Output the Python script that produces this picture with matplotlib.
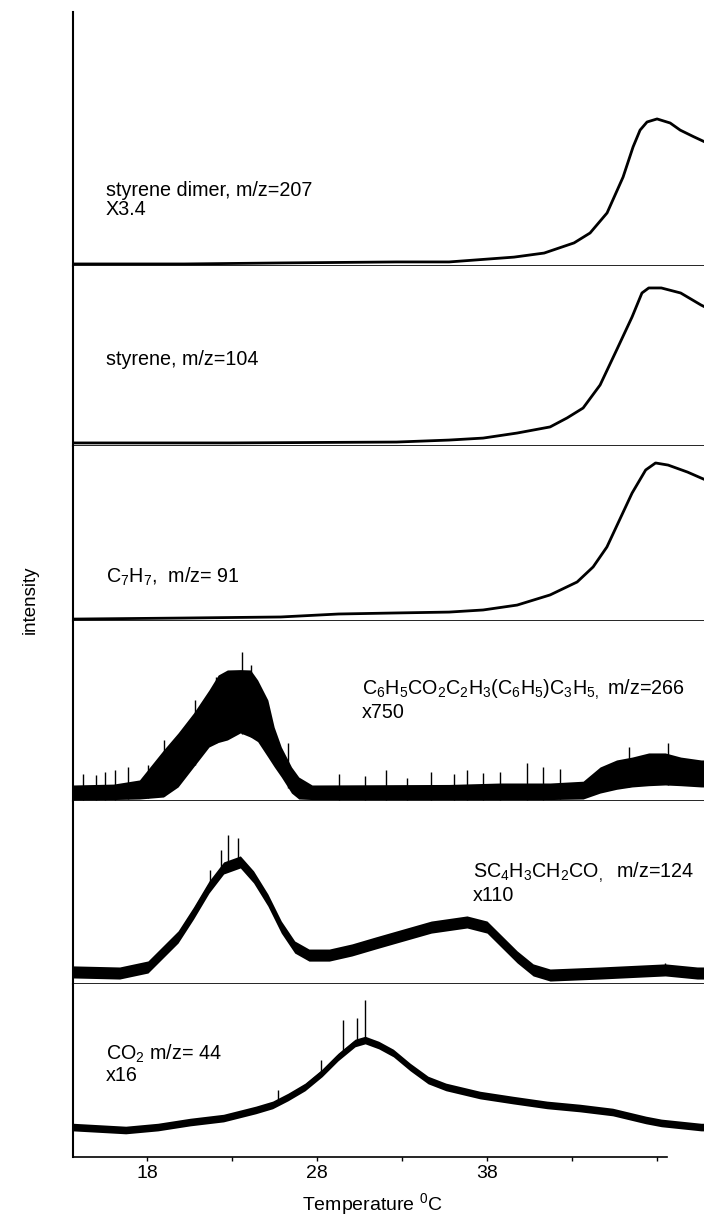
import numpy as np
import matplotlib.pyplot as plt

plt.rcParams['font.family'] = ['Liberation Sans', 'DejaVu Sans']
plt.rcParams['mathtext.fontset'] = 'custom'
plt.rcParams['mathtext.rm'] = 'Liberation Sans'
plt.rcParams['mathtext.default'] = 'regular'

# temperature (deg C) and intensity (fraction of panel height)
# styrene dimer, m/z=207
t_dimer = [13.65, 20.20, 25.87, 32.68, 35.77, 39.59, 41.36, 43.12, 44.06, 45.06, 46.00,
           46.59, 47.00, 47.41, 48.00, 48.77, 49.36, 50.12, 50.76]
i_dimer = [0.008, 0.008, 0.012, 0.016, 0.016, 0.035, 0.051, 0.091, 0.130, 0.209, 0.350,
           0.469, 0.535, 0.567, 0.579, 0.563, 0.535, 0.510, 0.490]

# styrene, m/z=104
t_styrene = [13.65, 22.89, 32.68, 35.77, 37.77, 39.77, 41.71, 42.71, 43.65, 44.65, 45.62,
             46.53, 47.11, 47.51, 48.25, 49.39, 50.59, 50.76]
i_styrene = [0.017, 0.017, 0.022, 0.033, 0.044, 0.072, 0.106, 0.156, 0.211, 0.339, 0.533,
             0.717, 0.850, 0.878, 0.878, 0.850, 0.783, 0.775]

# C7H7, m/z=91
t_c7h7 = [13.65, 20.20, 25.87, 29.27, 32.68, 35.77, 37.77, 39.77, 41.71, 43.30, 44.24,
          45.05, 45.79, 46.53, 47.33, 47.91, 48.65, 49.79, 50.59, 50.76]
i_c7h7 = [0.011, 0.017, 0.023, 0.040, 0.046, 0.051, 0.063, 0.091, 0.149, 0.223, 0.309,
          0.423, 0.577, 0.731, 0.863, 0.903, 0.891, 0.851, 0.817, 0.810]

# m/z=266 (very noisy: upper and lower edge of the noise band, plus tall spikes)
t_266 = [13.65, 16.03, 17.56, 18.97, 19.83, 20.74, 21.65, 22.19, 22.73, 23.49, 24.09,
         24.51, 25.11, 25.48, 25.90, 26.50, 26.93, 27.71, 35.77, 38.77, 41.71, 43.65,
         44.65, 45.62, 46.53, 47.51, 48.48, 49.39, 50.59, 50.76]
hi_266 = [0.089, 0.094, 0.117, 0.283, 0.378, 0.489, 0.617, 0.700, 0.728, 0.730, 0.728,
          0.672, 0.561, 0.411, 0.300, 0.189, 0.133, 0.089, 0.092, 0.100, 0.100, 0.110,
          0.189, 0.228, 0.244, 0.267, 0.267, 0.244, 0.228, 0.228]
lo_266 = [0.006, 0.008, 0.011, 0.022, 0.078, 0.189, 0.300, 0.325, 0.339, 0.378, 0.355,
          0.330, 0.244, 0.190, 0.133, 0.044, 0.011, 0.008, 0.008, 0.008, 0.008, 0.011,
          0.044, 0.065, 0.078, 0.085, 0.089, 0.085, 0.078, 0.078]
spike_t_266 = [14.26, 15.02, 15.53, 16.13, 16.90, 18.06, 19.03, 20.85, 22.08, 23.61, 24.09,
               26.32, 29.27, 30.83, 32.06, 33.30, 34.71, 36.08, 36.82, 37.77, 38.77, 40.36,
               41.30, 42.30, 46.36, 48.65]
spike_i_266 = [0.150, 0.144, 0.160, 0.172, 0.189, 0.200, 0.339, 0.561, 0.689, 0.828, 0.756,
               0.322, 0.150, 0.140, 0.170, 0.130, 0.161, 0.150, 0.172, 0.156, 0.160, 0.211,
               0.189, 0.180, 0.300, 0.322]

# SC4H3CH2CO, m/z=124
t_124 = [13.65, 16.39, 18.06, 19.83, 20.74, 21.65, 22.51, 23.49, 24.27, 25.11, 25.90,
         26.69, 27.53, 28.72, 30.05, 31.44, 32.68, 34.72, 36.82, 38.00, 38.77, 39.77,
         40.71, 41.71, 44.65, 48.48, 50.36, 50.76]
i_124 = [0.066, 0.060, 0.093, 0.257, 0.388, 0.530, 0.634, 0.667, 0.585, 0.459, 0.311,
         0.202, 0.158, 0.158, 0.186, 0.224, 0.257, 0.311, 0.339, 0.311, 0.240, 0.148,
         0.077, 0.049, 0.060, 0.077, 0.060, 0.060]
spike_t_124 = [21.70, 22.35, 22.78, 23.37, 48.48]
spike_i_124 = [0.623, 0.732, 0.814, 0.798, 0.115]

# CO2, m/z=44
t_co2 = [13.65, 16.75, 18.64, 20.54, 22.50, 24.40, 25.39, 26.30, 27.30, 28.30, 29.24,
         30.24, 30.83, 31.63, 32.49, 33.48, 34.53, 35.58, 37.59, 39.53, 41.53, 43.47,
         45.39, 47.34, 48.25, 50.59, 50.76]
i_co2 = [0.173, 0.156, 0.173, 0.202, 0.225, 0.272, 0.301, 0.347, 0.405, 0.486, 0.578,
         0.659, 0.676, 0.647, 0.601, 0.520, 0.445, 0.405, 0.358, 0.329, 0.301, 0.283,
         0.260, 0.214, 0.197, 0.173, 0.173]
spike_t_co2 = [25.73, 28.24, 29.53, 30.36, 30.83]
spike_i_co2 = [0.387, 0.561, 0.792, 0.803, 0.908]

labels = ['styrene dimer, m/z=207\nX3.4',
          'styrene, m/z=104',
          'C$_7$H$_7$,  m/z= 91',
          'C$_6$H$_5$CO$_2$C$_2$H$_3$(C$_6$H$_5$)C$_3$H$_5$$_,$ m/z=266\nx750',
          'SC$_4$H$_3$CH$_2$CO$_,$  m/z=124\nx110',
          'CO$_2$ m/z= 44\nx16']
label_xy = [(106, 200), (106, 360), (106, 577), (362, 700), (473, 883), (106, 1064)]

W, H = 704, 1219
fig = plt.figure(figsize=(W / 100, H / 100), dpi=100)
gs = fig.add_gridspec(6, 1, left=73 / W, right=1.0, top=1 - 12 / H, bottom=1 - 1157 / H,
                      hspace=0, height_ratios=[254, 180, 175, 180, 183, 173])
axes = [fig.add_subplot(gs[i]) for i in range(6)]

for k, ax in enumerate(axes):
    ax.set_xlim(13.65, 50.76)
    ax.set_ylim(0, 1)
    ax.spines['top'].set_visible(False)
    ax.spines['right'].set_visible(False)
    ax.spines['left'].set_linewidth(1.5)
    ax.spines['bottom'].set_linewidth(1.2)
    ax.set_yticks([])
    ax.set_xticks([18, 23, 28, 33, 38, 43, 48])
    ax.tick_params(axis='x', direction='out', length=3, width=1, labelsize=14, pad=3)
    if k < 5:
        ax.set_xticklabels([])
    else:
        ax.set_xticklabels(['18', '', '28', '', '38', '', ''])
axes[0].set_xticks(np.arange(14, 51, 1), minor=True)
axes[0].tick_params(axis='x', which='minor', direction='out', length=2, width=0.8)

# smooth traces
axes[0].plot(t_dimer, i_dimer, color='black', lw=2.0)
axes[1].plot(t_styrene, i_styrene, color='black', lw=2.0)
axes[2].plot(t_c7h7, i_c7h7, color='black', lw=2.0)

# noisy traces
ax = axes[3]
ax.fill_between(t_266, lo_266, hi_266, color='black', lw=0)
ax.vlines(spike_t_266, np.interp(spike_t_266, t_266, lo_266), spike_i_266, color='black', lw=1)

for ax, t, i, w, st, si in [(axes[4], t_124, i_124, 0.033, spike_t_124, spike_i_124),
                            (axes[5], t_co2, i_co2, 0.022, spike_t_co2, spike_i_co2)]:
    i = np.array(i)
    ax.fill_between(t, i - w, i + w, color='black', lw=0)
    ax.plot(t, i, color='black', lw=2.5)
    ax.vlines(st, np.interp(st, t, i), si, color='black', lw=1)

axes[5].spines['bottom'].set_bounds(13.65, 48.59)
axes[5].set_xlabel('Temperature $^0$C', fontsize=14)
axes[5].xaxis.set_label_coords((372 - 73) / 631, -0.195)

for (px, py), txt in zip(label_xy, labels):
    fig.text(px / W, 1 - py / H, txt, fontsize=14.2, ha='left', va='center', linespacing=1.05)

fig.text(30 / W, 1 - 600 / H, 'intensity', rotation=90, fontsize=13.5, ha='center', va='center')

fig.savefig('out.png', dpi=100)
